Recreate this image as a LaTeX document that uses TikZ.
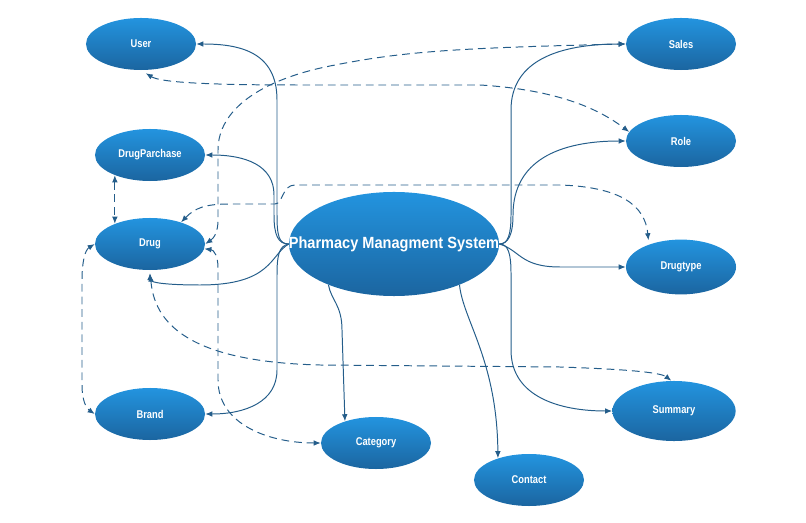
\documentclass[tikz,border=0pt]{standalone}
\usepackage{fontspec}
\setmainfont{Liberation Sans}
\newfontfamily\labelfont{Liberation Sans}[FakeStretch=0.83]
\newfontfamily\titlefont{Liberation Sans}[FakeStretch=0.9]
\usetikzlibrary{shapes.geometric,arrows.meta}
\definecolor{nodetop}{HTML}{2394DF}
\definecolor{nodebot}{HTML}{1B65A0}
\definecolor{linkblue}{HTML}{245D8A}

\begin{document}
\begin{tikzpicture}[x=0.025cm, y=0.025cm,
  entity/.style={ellipse, top color=nodetop, bottom color=nodebot,
                 minimum width=2.75cm, minimum height=1.3cm, inner sep=0pt,
                 text=white, font=\labelfont\bfseries\fontsize{8}{9}\selectfont},
  system/.style={entity, minimum width=5.25cm, minimum height=2.6cm,
                 font=\titlefont\bfseries\fontsize{11.5}{13}\selectfont},
  arrow/.style={-{Latex[length=5pt,width=4pt]}, linkblue, line width=0.7pt},
  link/.style={{Latex[length=5pt,width=4pt]}-{Latex[length=5pt,width=4pt]},
               linkblue, line width=0.7pt, dash pattern=on 5.5pt off 3.5pt}
]
\useasboundingbox (0,0) rectangle (806,-523);

\node[entity] (user) at (141,-44) {User};
\node[entity] (sales) at (681,-44) {Sales};
\node[entity] (purchase) at (150,-155) {DrugParchase};
\node[entity] (role) at (681,-141) {Role};
\node[entity] (drug) at (150,-244) {Drug};
\node[system] (pms) at (394,-244) {\makebox[0pt]{Pharmacy Managment System}};
\node[entity, minimum height=1.37cm] (drugtype) at (681,-267) {Drugtype};
\node[entity, minimum width=3.08cm, minimum height=1.5cm] (summary) at (674,-411) {Summary};
\node[entity] (brand) at (150,-414) {Brand};
\node[entity] (category) at (376,-443) {Category};
\node[entity] (contact) at (529,-480) {Contact};

% system to the tables
\draw[arrow] (pms.west) .. controls (279,-244) and (277,-236) .. (277,-215)
  -- (277,-100) .. controls (277,-52) and (240,-44) .. (user.east);
\draw[arrow] (pms.west) .. controls (278,-244) and (274,-235) .. (274,-215)
  -- (274,-195) .. controls (274,-165) and (245,-155) .. (purchase.east);
\draw[arrow, shorten >=2pt] (pms.west) .. controls (270,-255) and (272,-285) .. (200,-285)
  .. controls (170,-285) and (150,-283) .. (drug.south);
\draw[arrow] (pms.west) .. controls (279,-246) and (277,-255) .. (277,-275)
  -- (277,-370) .. controls (277,-402) and (245,-414) .. (brand.east);
\draw[arrow] (pms.212) .. controls (331,-300) and (342,-305) .. (342,-330) -- (category.145);
\draw[arrow] (pms.-32) .. controls (463,-320) and (497,-360) .. (contact.145);
\draw[arrow] (pms.east) .. controls (508,-244) and (511,-235) .. (511,-215)
  -- (511,-110) .. controls (511,-60) and (560,-44) .. (sales.west);
\draw[arrow] (pms.east) .. controls (508,-244) and (513,-235) .. (513,-215)
  .. controls (513,-160) and (560,-141) .. (role.west);
\draw[arrow] (pms.east) .. controls (520,-250) and (520,-267) .. (560,-267) -- (drugtype.west);
\draw[arrow] (pms.east) .. controls (508,-244) and (511,-253) .. (511,-273)
  -- (511,-350) .. controls (511,-397) and (560,-411) .. (summary.west);

% links between the tables
\draw[link, shorten <=4pt] (user.south) .. controls (160,-82) and (200,-85) .. (300,-85)
  -- (480,-85) .. controls (560,-90) and (600,-110) .. (role.170);
\draw[link] (drug.east) .. controls (214,-238) and (218,-232) .. (218,-220)
  -- (218,-150) .. controls (218,-110) and (260,-80) .. (330,-66)
  .. controls (400,-52) and (450,-48) .. (sales.west);
\draw[link, shorten >=3pt] (drug.35) .. controls (195,-208) and (205,-204) .. (230,-204)
  -- (275,-204) .. controls (283,-204) and (282,-185) .. (295,-185)
  -- (560,-185) .. controls (620,-187) and (645,-205) .. (drugtype.145);
\draw[link] (purchase.210) -- (drug.150);
\draw[link] (drug.west) .. controls (85,-250) and (82,-262) .. (82,-280)
  -- (82,-385) .. controls (82,-400) and (86,-408) .. (brand.west);
\draw[link, shorten <=3pt] (drug.south) .. controls (155,-330) and (200,-362) .. (320,-365)
  -- (560,-367) .. controls (620,-369) and (660,-372) .. (summary.95);
\draw[link] (drug.-5) .. controls (214,-250) and (218,-256) .. (218,-268)
  -- (218,-380) .. controls (218,-425) and (270,-443) .. (category.west);
\end{tikzpicture}
\end{document}
